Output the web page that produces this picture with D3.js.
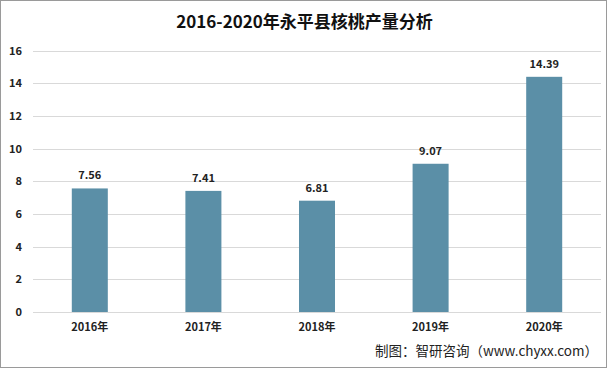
<!DOCTYPE html>
<html><head><meta charset="utf-8">
<script src="https://cdn.jsdelivr.net/npm/d3@7"></script>
<style>body{margin:0;background:#fff;}svg{display:block;}</style>
</head><body>
<svg id="c" width="607" height="368"></svg>
<script>
const categories = ["2016年","2017年","2018年","2019年","2020年"];
const values = [7.56, 7.41, 6.81, 9.07, 14.39];
const yTicks = [0,2,4,6,8,10,12,14,16];
const title = "2016-2020年永平县核桃产量分析";
const source = "制图：智研咨询（www.chyxx.com）";

const W = 607, H = 368;
const svg = d3.select("#c");
const font = "'Noto Sans CJK SC', 'Liberation Sans', sans-serif";
svg.append("rect").attr("x",0.5).attr("y",0.5).attr("width",W-1).attr("height",H-1)
  .attr("fill","#fff").attr("stroke","#9a9a9a");

const m = {left:33, right:601, top:50.5, bottom:312};
const x = d3.scaleBand().domain(categories).range([m.left, m.right]).paddingInner(0.683).paddingOuter(0.3415);
const y = d3.scaleLinear().domain([0,16]).range([m.bottom, m.top]);

svg.append("text").attr("x", W/2+1).attr("y", 28).attr("text-anchor","middle")
  .attr("font-family", font).attr("font-weight","bold").attr("font-size",17).attr("fill","#111").text(title);

const g = svg.append("g");
g.selectAll("line.grid").data(yTicks).join("line")
  .attr("x1", m.left).attr("x2", m.right)
  .attr("y1", d=>Math.round(y(d))+0.5).attr("y2", d=>Math.round(y(d))+0.5)
  .attr("stroke","#d9d9d9").attr("stroke-width",1);

g.selectAll("text.yt").data(yTicks).join("text")
  .attr("x", 22).attr("y", d=>y(d)+4).attr("text-anchor","end")
  .attr("font-family", font).attr("font-weight","bold").attr("font-size",11).attr("fill","#222").text(d=>d);

g.selectAll("rect.bar").data(values).join("rect")
  .attr("x",(d,i)=>x(categories[i])).attr("width", x.bandwidth())
  .attr("y", d=>y(d)).attr("height", d=>y(0)-y(d)).attr("fill","#5b8fa7");

g.selectAll("text.vl").data(values).join("text")
  .attr("x",(d,i)=>x(categories[i])+x.bandwidth()/2).attr("y", d=>y(d)-9)
  .attr("text-anchor","middle").attr("font-family", font).attr("font-weight","bold")
  .attr("font-size",11).attr("fill","#222").text(d=>d.toFixed(2));

g.selectAll("text.xl").data(categories).join("text")
  .attr("x", d=>x(d)+x.bandwidth()/2).attr("y", 331).attr("text-anchor","middle")
  .attr("font-family", font).attr("font-weight","bold").attr("font-size",11).attr("fill","#222").text(d=>d);

svg.append("text").attr("x", 598).attr("y", 356).attr("text-anchor","end")
  .attr("font-family", font).attr("font-size",13.5).attr("fill","#222").text(source);
</script>
</body></html>
